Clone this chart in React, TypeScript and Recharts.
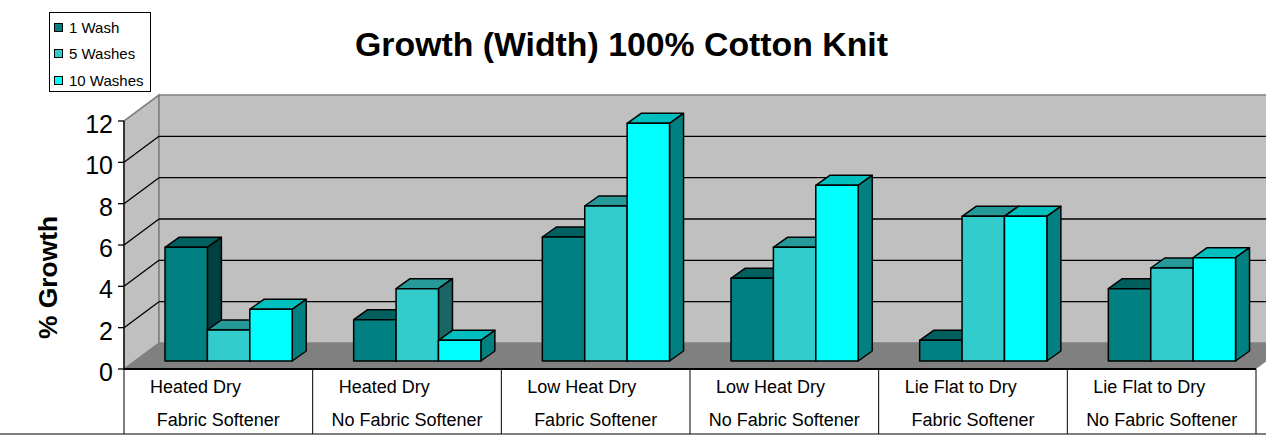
import React from 'react';
import { BarChart, Bar, XAxis, YAxis, CartesianGrid, Legend } from 'recharts';

const categoryLine1 = ['Heated Dry', 'Heated Dry', 'Low Heat Dry', 'Low Heat Dry', 'Lie Flat to Dry', 'Lie Flat to Dry'];
const categoryLine2 = ['Fabric Softener', 'No Fabric Softener', 'Fabric Softener', 'No Fabric Softener', 'Fabric Softener', 'No Fabric Softener'];
const seriesNames = ['1 Wash', '5 Washes', '10 Washes'];
const oneWash = [5.5, 2, 6, 4, 1, 3.5];
const fiveWashes = [1.5, 3.5, 7.5, 5.5, 7, 4.5];
const tenWashes = [2.5, 1, 11.5, 8.5, 7, 5];
const yTicks = [0, 2, 4, 6, 8, 10, 12];

const data = categoryLine1.map((l1, i) => ({
  key: `${l1}|${categoryLine2[i]}`,
  w1: oneWash[i],
  w5: fiveWashes[i],
  w10: tenWashes[i],
}));

const FONT = '"Liberation Sans", Arial, sans-serif';
const DX = 35;
const DY = -26;
const BAR_DX = 10;
const BAR_DY = -8;
const BDX = 14;
const BDY = -10;

const colors = [
  { front: '#008080', top: '#006060', side: '#004040' },
  { front: '#33CCCC', top: '#269999', side: '#1A6666' },
  { front: '#00FFFF', top: '#00BFBF', side: '#008080' },
];

const makeShape = (c: { front: string; top: string; side: string }) => (props: any) => {
  const { x, y, width, height } = props;
  if (x == null || y == null) return <g />;
  const fx = x + BAR_DX;
  const fy = y + BAR_DY;
  const w = width;
  const h = height;
  return (
    <g stroke="#000" strokeWidth={1.5} strokeLinejoin="round">
      <polygon
        points={`${fx},${fy} ${fx + BDX},${fy + BDY} ${fx + w + BDX},${fy + BDY} ${fx + w},${fy}`}
        fill={c.top}
      />
      <polygon
        points={`${fx + w},${fy} ${fx + w + BDX},${fy + BDY} ${fx + w + BDX},${fy + h + BDY} ${fx + w},${fy + h}`}
        fill={c.side}
      />
      <rect x={fx} y={fy} width={w} height={h} fill={c.front} />
    </g>
  );
};

const GridLine = (props: any) => {
  const { x1, y1, x2, index } = props;
  const pts: number[] = props.horizontalPoints ?? [];
  let top = typeof props.y === 'number' ? props.y : pts.length ? Math.min(...pts) : 121;
  let bottom =
    typeof props.y === 'number' && typeof props.height === 'number'
      ? props.y + props.height
      : pts.length
      ? Math.max(...pts)
      : 369;
  const isTop = Math.abs(y1 - top) < 0.5;
  const isBottom = Math.abs(y1 - bottom) < 0.5;
  return (
    <g>
      {index === 0 && (
        <g>
          <polygon
            points={`${x1},${top} ${x1 + DX},${top + DY} ${x1 + DX},${bottom + DY} ${x1},${bottom}`}
            fill="#C0C0C0"
            stroke="#808080"
            strokeWidth={1.5}
          />
          <rect
            x={x1 + DX}
            y={top + DY}
            width={x2 - x1}
            height={bottom - top}
            fill="#C0C0C0"
            stroke="#808080"
            strokeWidth={1.5}
          />
          <polygon
            points={`${x1},${bottom} ${x1 + DX},${bottom + DY} ${x2 + DX},${bottom + DY} ${x2},${bottom}`}
            fill="#808080"
          />
        </g>
      )}
      {!isTop && !isBottom && (
        <g stroke="#000" strokeWidth={1.3}>
          <line x1={x1} y1={y1} x2={x1 + DX} y2={y1 + DY} />
          <line x1={x1 + DX} y1={y1 + DY} x2={x2 + DX} y2={y1 + DY} />
        </g>
      )}
      {isTop && <line x1={x1} y1={y1} x2={x1 + DX} y2={y1 + DY} stroke="#808080" strokeWidth={1.5} />}
    </g>
  );
};

const YTick = (props: any) => {
  const { x, y, payload } = props;
  return (
    <text x={x} y={y + 3} dy="0.355em" textAnchor="end" fontFamily={FONT} fontSize={25} fill="#000">
      {payload.value}
    </text>
  );
};

const XTick = (props: any) => {
  const { x, y, index, payload } = props;
  const n = categoryLine1.length;
  const half = payload && payload.offset ? payload.offset : (props.width ?? 1132) / n / 2;
  const left = x - half;
  const right = x + half;
  return (
    <g>
      <line x1={left} y1={y} x2={left} y2={y + 65} stroke="#000" strokeWidth={1} />
      {index === n - 1 && <line x1={right} y1={y} x2={right} y2={y + 65} stroke="#000" strokeWidth={1} />}
      {index === 0 && <line x1={0} y1={y + 65} x2={1266} y2={y + 65} stroke="#000" strokeWidth={1} />}
      <text x={left + 26} y={y + 24} textAnchor="start" fontFamily={FONT} fontSize={18} fill="#000">
        {categoryLine1[index]}
      </text>
      <text x={x} y={y + 57} textAnchor="middle" fontFamily={FONT} fontSize={18} fill="#000">
        {categoryLine2[index]}
      </text>
    </g>
  );
};

const LegendBox = (props: any) => {
  const items = [...(props.payload ?? [])].sort(
    (a: any, b: any) => seriesNames.indexOf(a.value) - seriesNames.indexOf(b.value)
  );
  return (
    <div
      style={{
        width: 102,
        height: 80,
        border: '1px solid #000',
        boxSizing: 'border-box',
        background: '#fff',
        paddingTop: 1,
        fontFamily: FONT,
        fontSize: 15,
        color: '#000',
      }}
    >
      {items.map((it: any) => (
        <div key={it.value} style={{ height: 26.6, display: 'flex', alignItems: 'center', paddingLeft: 4 }}>
          <span
            style={{
              display: 'inline-block',
              width: 9,
              height: 9,
              boxSizing: 'border-box',
              border: '1px solid #000',
              background: it.color,
              marginRight: 6,
            }}
          />
          <span style={{ whiteSpace: 'nowrap' }}>{it.value}</span>
        </div>
      ))}
    </div>
  );
};

export default function App() {
  return (
    <div style={{ position: 'relative', width: 1266, height: 436, background: '#fff' }}>
      <style>{`body{margin:0;background:#fff;}`}</style>
      <BarChart
        width={1266}
        height={436}
        data={data}
        margin={{ top: 121, right: 10, bottom: 0, left: 0 }}
        barGap={0}
        barSize={42.4}
      >
        <CartesianGrid vertical={false} horizontal={GridLine as any} />
        <XAxis
          dataKey="key"
          height={67}
          interval={0}
          tickLine={false}
          tickSize={0}
          tickMargin={0}
          axisLine={{ stroke: '#000', strokeWidth: 2 }}
          tick={XTick as any}
        />
        <YAxis
          width={124}
          domain={[0, 12]}
          ticks={yTicks}
          interval={0}
          tickSize={6}
          tickMargin={5}
          axisLine={{ stroke: '#000', strokeWidth: 1.3 }}
          tickLine={{ stroke: '#000', strokeWidth: 1.3 }}
          tick={YTick as any}
        />
        <Legend
          layout="vertical"
          align="center"
          verticalAlign="middle"
          content={LegendBox as any}
          wrapperStyle={{ left: 49, top: 12, width: 102, height: 80 }}
        />
        <Bar dataKey="w1" name={seriesNames[0]} fill={colors[0].front} shape={makeShape(colors[0])} isAnimationActive={false} />
        <Bar dataKey="w5" name={seriesNames[1]} fill={colors[1].front} shape={makeShape(colors[1])} isAnimationActive={false} />
        <Bar dataKey="w10" name={seriesNames[2]} fill={colors[2].front} shape={makeShape(colors[2])} isAnimationActive={false} />
      </BarChart>
      <svg
        width={1266}
        height={436}
        style={{ position: 'absolute', left: 0, top: 0, pointerEvents: 'none' }}
      >
        <text x={621.5} y={56} textAnchor="middle" fontFamily={FONT} fontWeight="bold" fontSize={33.8} fill="#000">
          Growth (Width) 100% Cotton Knit
        </text>
        <text
          transform="translate(57,277.5) rotate(-90)"
          textAnchor="middle"
          fontFamily={FONT}
          fontWeight="bold"
          fontSize={26.4}
          fill="#000"
        >
          % Growth
        </text>
      </svg>
    </div>
  );
}
